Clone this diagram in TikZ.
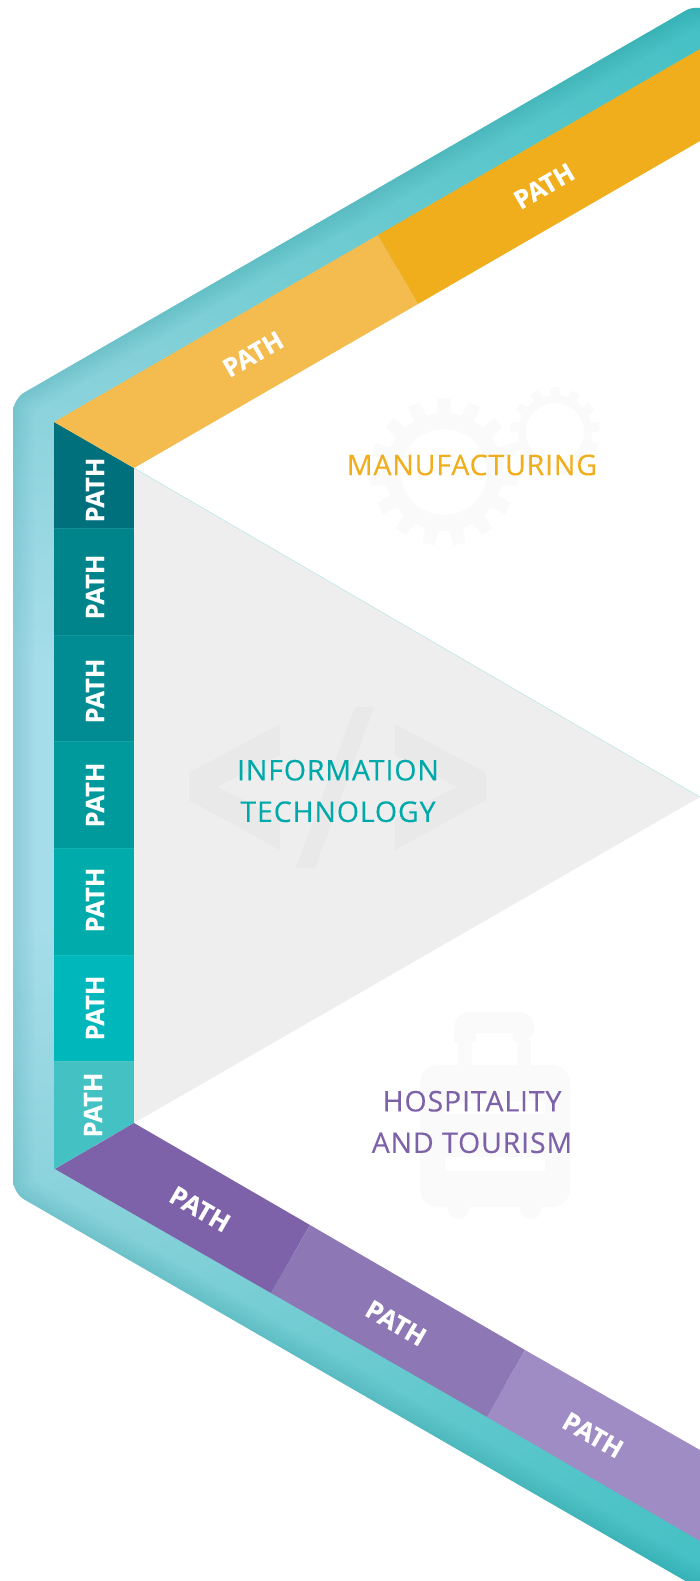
\documentclass[tikz,border=0pt]{standalone}
\usepackage{fontspec}
\usepackage{tikz}
\setmainfont{Open Sans}
\newfontfamily\titlefont{Open Sans}[LetterSpace=3,FakeBold=0.25]
\newfontfamily\pathfont{Open Sans}[BoldFeatures={FakeBold=0.5}]

\definecolor{teal1}{HTML}{00707D}
\definecolor{teal2}{HTML}{00848B}
\definecolor{teal3}{HTML}{008C92}
\definecolor{teal4}{HTML}{00999C}
\definecolor{teal5}{HTML}{00ABAB}
\definecolor{teal6}{HTML}{00B8BB}
\definecolor{teal7}{HTML}{44C1C3}
\definecolor{amber1}{HTML}{F4BC4E}
\definecolor{amber2}{HTML}{F0AE1C}
\definecolor{violet1}{HTML}{7E62A9}
\definecolor{violet2}{HTML}{8D78B5}
\definecolor{violet3}{HTML}{A08CC4}
\definecolor{panelgray}{HTML}{EEEEEE}
\definecolor{icongray}{HTML}{E9E9E9}
\definecolor{iconpale}{HTML}{FAFAFA}
\definecolor{titleteal}{HTML}{00A9A9}
\definecolor{glow1}{HTML}{A6DDEA}
\definecolor{glow2}{HTML}{84D0D8}
\definecolor{glow3}{HTML}{5CC7CC}
\definecolor{glow4}{HTML}{2FBABD}

\pgfdeclareradialshading{bandglow}{\pgfpoint{0bp}{0bp}}{
	color(0bp)=(glow1);
	color(3bp)=(glow1);
	color(10.5bp)=(glow2);
	color(18bp)=(glow3);
	color(29bp)=(glow4);
	color(50bp)=(glow4)}

\tikzset{
	pathlabel/.style={text=white,font=\pathfont\bfseries\fontsize{25.5}{25.5}\selectfont,inner sep=0pt},
	sectorlabel/.style={font=\titlefont\fontsize{28.5}{41.5}\selectfont,align=center,inner sep=0pt},
}

\begin{document}
\begin{tikzpicture}[x=1pt,y=-1pt]
		\useasboundingbox (0,0) rectangle (700,1581);
		\clip (0,0) rectangle (700,1581);

		% outer band
		\begin{scope}
			\clip[rounded corners=13] (760,1624) -- (13,1193) -- (13,399) -- (697,4) -- (760,40) [sharp corners] -- (760,60) -- (94,445) -- (94,1146) -- (760,1530) -- cycle;
			\shade[shading=bandglow] (0,795) circle [radius=1100];
			\foreach \w in {6,12,...,42}
				\draw[teal1,opacity=.018,line width=\w,rounded corners=13] (760,1624) -- (13,1193) -- (13,399) -- (697,4) -- (760,40);
		\end{scope}

		% left column
		\fill[teal1] (54,422) -- (134,468) -- (134,528) -- (54,528) -- cycle;
		\foreach \ya/\yb/\segcol in {528/635/teal2,635/741/teal3,741/848/teal4,848/955/teal5,955/1061/teal6}
			\fill[\segcol] (54,\ya) rectangle (134,\yb);
		\fill[teal7] (54,1061) -- (134,1061) -- (134,1123) -- (54,1169) -- cycle;
		\foreach \ya in {528,635,741,848,955,1061}
			\draw[white,opacity=.08,line width=.6] (54,\ya) -- (134,\ya);

		% top and bottom strips
		\fill[amber1] (54,422) -- (378,235) -- (418,304) -- (134,468) -- cycle;
		\fill[amber2] (378,235) -- (700,49) -- (700,141) -- (418,304) -- cycle;
		\fill[violet1] (55,1169) -- (134,1123) -- (310,1225) -- (271,1293) -- cycle;
		\fill[violet2] (271,1293) -- (310,1225) -- (525,1350) -- (487,1417) -- cycle;
		\fill[violet3] (487,1417) -- (525,1350) -- (700,1450) -- (700,1541) -- cycle;

		% middle panel
		\fill[panelgray] (134,468) -- (700,797) -- (134,1123) -- cycle;
		\draw[teal7!45,line width=.4] (134,468) -- (700,797);

		% code icon
		\fill[icongray] (280,724) -- (189,773) -- (189,800) -- (280,850) -- (280,818) -- (217,787) -- (280,755) -- cycle;
		\fill[icongray] (395,724) -- (486,773) -- (486,800) -- (395,850) -- (395,818) -- (457,787) -- (395,755) -- cycle;
		\fill[icongray] (355,707) -- (374,707) -- (315,868) -- (296,868) -- cycle;

		% gears
		\foreach \gx/\gy/\gin/\gmid/\gout/\gnum in {444/472/43/59/74/15,555/432/29/37/45/13}{
			\fill[iconpale,even odd rule] (\gx,\gy) circle [radius=\gmid] (\gx,\gy) circle [radius=\gin];
			\pgfmathsetmacro{\gstep}{360/\gnum}
			\foreach \k in {1,...,\gnum}{
				\pgfmathsetmacro{\ga}{90+\gstep/2+\k*\gstep}
				\pgfmathsetmacro{\gw}{\gstep*.3}
				\pgfmathsetmacro{\gv}{\gstep*.2}
				\fill[iconpale] ([shift={(\gx,\gy)}]\ga-\gw:\gmid-2) -- ([shift={(\gx,\gy)}]\ga-\gv:\gout) -- ([shift={(\gx,\gy)}]\ga+\gv:\gout) -- ([shift={(\gx,\gy)}]\ga+\gw:\gmid-2) -- cycle;
			}
		}

		% suitcase
		\fill[iconpale,rounded corners=18] (420,1065) rectangle (570,1207);
		\fill[iconpale,rounded corners=16] (454,1042) -- (454,1012) -- (535,1012) -- (535,1042) [sharp corners] -- cycle;
		\fill[iconpale] (458,1040) rectangle (531,1066);
		\fill[iconpale] (458,1208) circle [radius=11];
		\fill[iconpale] (531,1208) circle [radius=11];
		\fill[white] (476,1033) -- (513,1033) -- (513,1042) -- (517.7,1042) -- (517.7,1065) -- (471.7,1065) -- (471.7,1042) -- (476,1042) -- cycle;
		\fill[white,rounded corners=1] (445,1101) rectangle (545,1114);
		\fill[white,rounded corners=1] (445,1157) rectangle (545,1171);

		% labels
		\foreach \px/\py/\rot [count=\i] in {95/490/90,95/587/90,95/691/90,95/795/90,95/900/90,95/1008/90,93/1105/90,253/354/30,544/186/30,200/1209/-30,396/1323/-30,593/1435/-30}
			\node[pathlabel,rotate=\rot] (path\i) at (\px,\py) {PATH};

		\node[sectorlabel,text=amber2] (manufacturing) at (472,465) {MANUFACTURING};
		\node[sectorlabel,text=titleteal] (infotech) at (338,791) {INFORMATION\\TECHNOLOGY};
		\node[sectorlabel,text=violet1] (hospitality) at (472,1122) {HOSPITALITY\\AND TOURISM};
\end{tikzpicture}
\end{document}
